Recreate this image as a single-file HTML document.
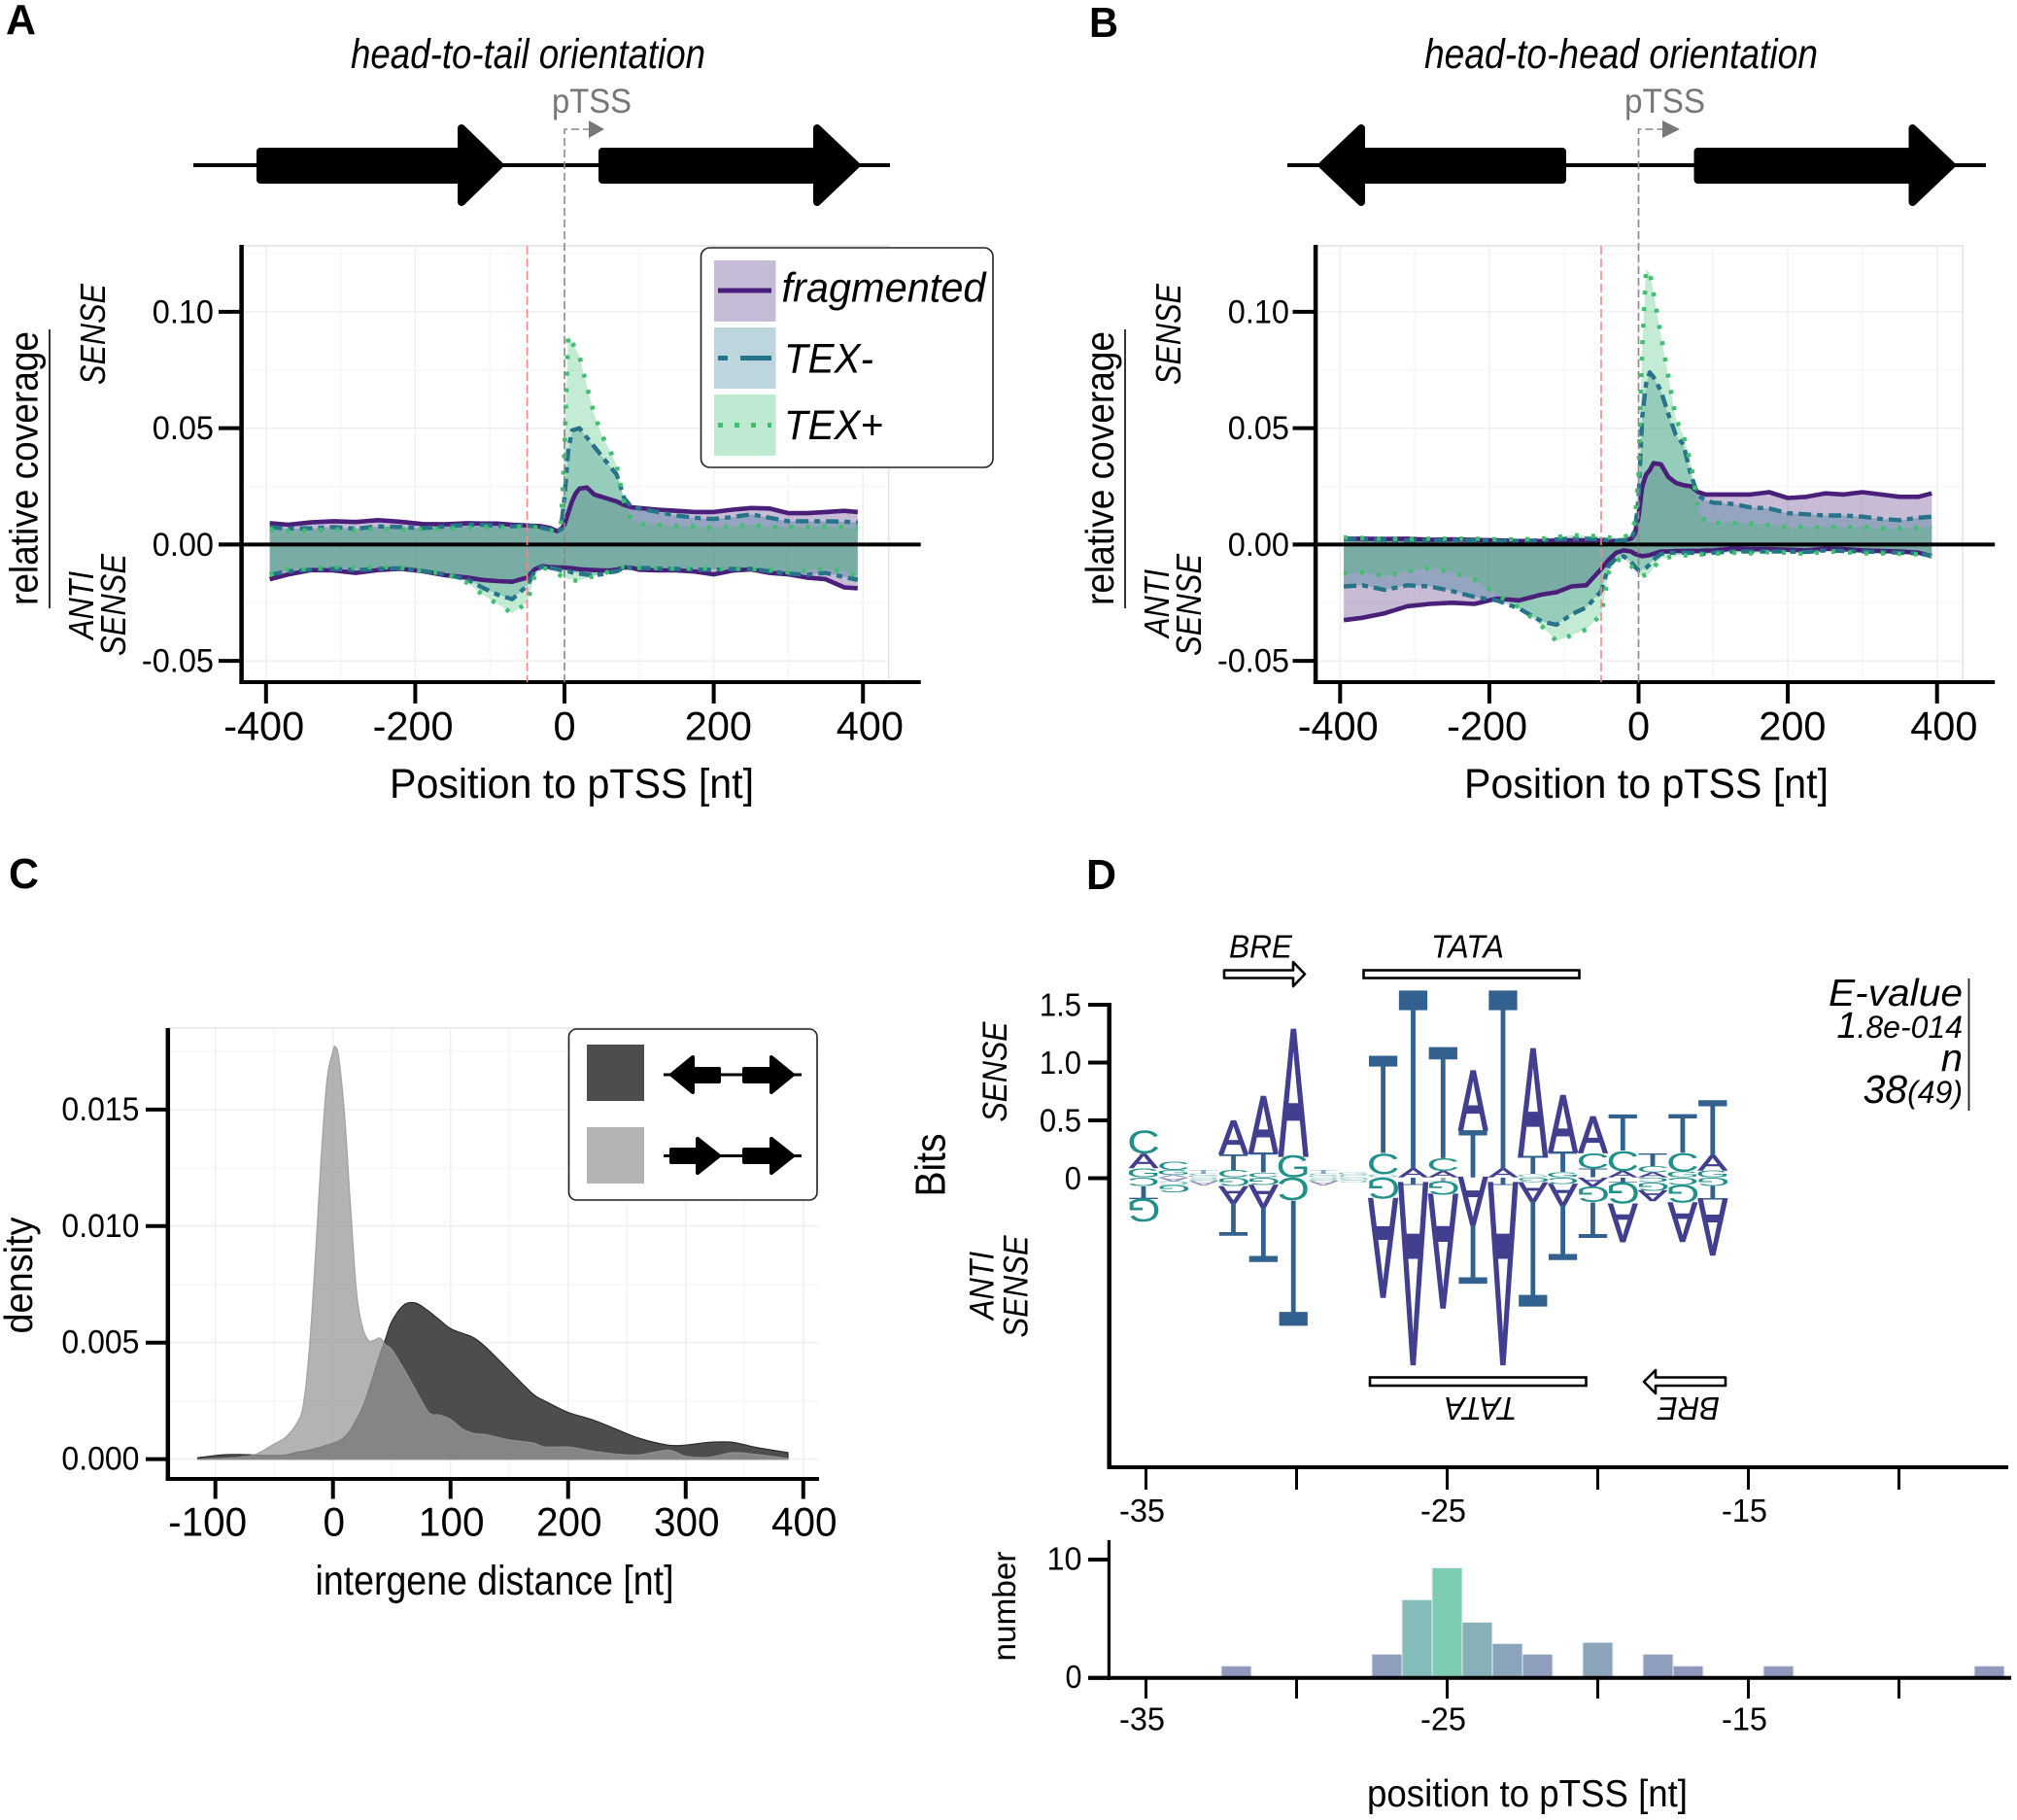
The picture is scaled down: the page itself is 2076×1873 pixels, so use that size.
<!DOCTYPE html>
<html lang="en">
<head>
<meta charset="utf-8">
<title>Coverage around pTSS, intergene distance and motif logo</title>
<style>
html,body{margin:0;padding:0;background:#fff;}
svg{display:block;font-family:"Liberation Sans",sans-serif;}
.it{font-style:italic;}
</style>
</head>
<body>
<svg id="figure" xmlns="http://www.w3.org/2000/svg" width="2076" height="1873" viewBox="0 0 2076 1873">
<rect width="2076" height="1873" fill="#fff"/>

<!-- PANEL A -->
<g>
  <text x="6" y="35" font-size="44" font-weight="bold" textLength="31" lengthAdjust="spacingAndGlyphs">A</text>
  <text class="it" x="361" y="70" font-size="43" textLength="365" lengthAdjust="spacingAndGlyphs">head-to-tail orientation</text>
  <text x="568" y="116" font-size="35" fill="#777" textLength="82" lengthAdjust="spacingAndGlyphs">pTSS</text>
  <g fill="#000" stroke="#000" stroke-linejoin="round" stroke-width="8">
    <line x1="199" y1="170" x2="916" y2="170" stroke-width="4"/>
    <path d="M268,156 H475 V132 L514,170 L475,208 V185 H268 Z"/>
    <path d="M620,156 H841 V132 L881,170 L841,208 V185 H620 Z"/>
  </g>
  <g id="a-marks"></g>
  <line x1="542.6" y1="253" x2="542.6" y2="702" stroke="#f08a8a" stroke-width="1.6" stroke-dasharray="9 4"/>
  <path d="M581,702 V133 H607" fill="none" stroke="#888" stroke-width="1.6" stroke-dasharray="8 4"/>
  <polygon points="606,124 622,133 606,142" fill="#777"/>
  <text transform="translate(38.5,482) rotate(-90)" text-anchor="middle" font-size="41" textLength="282" lengthAdjust="spacingAndGlyphs">relative coverage</text>
  <line x1="51" y1="339" x2="51" y2="626" stroke="#000" stroke-width="1.6"/>
  <text class="it" transform="translate(108,344) rotate(-90)" text-anchor="middle" font-size="36" textLength="104" lengthAdjust="spacingAndGlyphs">SENSE</text>
  <text class="it" transform="translate(96,623) rotate(-90)" text-anchor="middle" font-size="36" textLength="70" lengthAdjust="spacingAndGlyphs">ANTI</text>
  <text class="it" transform="translate(129,622.5) rotate(-90)" text-anchor="middle" font-size="36" textLength="105" lengthAdjust="spacingAndGlyphs">SENSE</text>
  <text x="401" y="821" font-size="43" textLength="375" lengthAdjust="spacingAndGlyphs">Position to pTSS [nt]</text>
  <g>
    <rect x="721.5" y="255" width="300.5" height="226" rx="9" fill="#fff" stroke="#222" stroke-width="1.6"/>
    <rect x="735" y="268" width="63.5" height="63" fill="#c7bcd8"/>
    <line x1="739" y1="299" x2="794" y2="299" stroke="#4a1f7a" stroke-width="5"/>
    <text class="it" x="804.5" y="310.5" font-size="43" textLength="210" lengthAdjust="spacingAndGlyphs">fragmented</text>
    <rect x="735" y="337" width="63.5" height="63" fill="#bdd5dc"/>
    <line x1="739" y1="368.5" x2="794" y2="368.5" stroke="#26738a" stroke-width="5" stroke-dasharray="10 13 32 0"/>
    <text class="it" x="807" y="383.5" font-size="43" textLength="92" lengthAdjust="spacingAndGlyphs">TEX-</text>
    <rect x="735" y="406" width="63.5" height="63" fill="#bfead2"/>
    <line x1="739" y1="437.5" x2="794" y2="437.5" stroke="#3fbf6f" stroke-width="5" stroke-dasharray="5 12"/>
    <text class="it" x="807" y="452" font-size="43" textLength="102" lengthAdjust="spacingAndGlyphs">TEX+</text>
  </g>
</g>

<!-- PANEL B -->
<g>
  <text x="1121" y="38" font-size="44" font-weight="bold" textLength="30" lengthAdjust="spacingAndGlyphs">B</text>
  <text class="it" x="1466" y="70" font-size="43" textLength="405" lengthAdjust="spacingAndGlyphs">head-to-head orientation</text>
  <text x="1672" y="116" font-size="35" fill="#777" textLength="83" lengthAdjust="spacingAndGlyphs">pTSS</text>
  <g fill="#000" stroke="#000" stroke-linejoin="round" stroke-width="8">
    <line x1="1325" y1="170" x2="2044" y2="170" stroke-width="4"/>
    <path d="M1608,156 H1401 V132 L1361,170 L1401,208 V185 H1608 Z"/>
    <path d="M1747.5,156 H1968.5 V132 L2008.5,170 L1968.5,208 V185 H1747.5 Z"/>
  </g>
  <g id="b-marks"></g>
  <line x1="1648" y1="253" x2="1648" y2="702" stroke="#f08a8a" stroke-width="1.6" stroke-dasharray="9 4"/>
  <path d="M1686.5,702 V133 H1712" fill="none" stroke="#888" stroke-width="1.6" stroke-dasharray="8 4"/>
  <polygon points="1711,124 1729,133 1711,142" fill="#777"/>
  <text transform="translate(1146,482) rotate(-90)" text-anchor="middle" font-size="41" textLength="282" lengthAdjust="spacingAndGlyphs">relative coverage</text>
  <line x1="1158" y1="339" x2="1158" y2="626" stroke="#000" stroke-width="1.6"/>
  <text class="it" transform="translate(1215,344) rotate(-90)" text-anchor="middle" font-size="36" textLength="104" lengthAdjust="spacingAndGlyphs">SENSE</text>
  <text class="it" transform="translate(1203,621) rotate(-90)" text-anchor="middle" font-size="36" textLength="70" lengthAdjust="spacingAndGlyphs">ANTI</text>
  <text class="it" transform="translate(1236,622.5) rotate(-90)" text-anchor="middle" font-size="36" textLength="105" lengthAdjust="spacingAndGlyphs">SENSE</text>
  <text x="1507" y="821" font-size="43" textLength="375" lengthAdjust="spacingAndGlyphs">Position to pTSS [nt]</text>
</g>

<!-- PANEL C -->
<g>
  <text x="9" y="914" font-size="44" font-weight="bold" textLength="31" lengthAdjust="spacingAndGlyphs">C</text>
  <g id="c-marks"></g>
  <text x="324.5" y="1641" font-size="43" textLength="369" lengthAdjust="spacingAndGlyphs">intergene distance [nt]</text>
  <text transform="translate(33,1312.5) rotate(-90)" text-anchor="middle" font-size="41" textLength="120" lengthAdjust="spacingAndGlyphs">density</text>
  <g>
    <rect x="585.5" y="1059" width="255.5" height="176" rx="8" fill="#fff" stroke="#222" stroke-width="1.6"/>
    <rect x="604" y="1075" width="59" height="58" fill="#4d4d4d"/>
    <rect x="604" y="1160" width="59" height="58" fill="#b3b3b3"/>
    <g fill="#000" stroke="#000" stroke-linejoin="round" stroke-width="4">
      <line x1="683" y1="1106" x2="825" y2="1106" stroke-width="3"/>
      <path d="M740,1100 H713 V1088 L691,1106 L713,1124 V1113 H740 Z"/>
      <path d="M766,1100 H794 V1088 L816,1106 L794,1124 V1113 H766 Z"/>
    </g>
    <g fill="#000" stroke="#000" stroke-linejoin="round" stroke-width="4">
      <line x1="683" y1="1189.5" x2="825" y2="1189.5" stroke-width="3"/>
      <path d="M691,1183 H718 V1172 L740,1189.5 L718,1207 V1196 H691 Z"/>
      <path d="M766,1183 H794 V1172 L816,1189.5 L794,1207 V1196 H766 Z"/>
    </g>
  </g>
</g>

<!-- PANEL D -->
<g>
  <text x="1118" y="915" font-size="44" font-weight="bold" textLength="31" lengthAdjust="spacingAndGlyphs">D</text>
  <text class="it" x="1265" y="985.5" font-size="33" textLength="65" lengthAdjust="spacingAndGlyphs">BRE</text>
  <text class="it" x="1473" y="985.5" font-size="33" textLength="75" lengthAdjust="spacingAndGlyphs">TATA</text>
  <path d="M1260,998.5 H1331 V990 L1343,1002.5 L1331,1015 V1006.5 H1260 Z" fill="#fff" stroke="#000" stroke-width="2.6" stroke-linejoin="round"/>
  <rect x="1403.5" y="998.5" width="222" height="8" fill="#fff" stroke="#000" stroke-width="2.6"/>
  <g id="d-marks"></g>
  <rect x="1410" y="1417.5" width="222.5" height="8.5" fill="#fff" stroke="#000" stroke-width="2.6"/>
  <path d="M1776,1417.5 H1704 V1410 L1692,1422 L1704,1434 V1426 H1776 Z" fill="#fff" stroke="#000" stroke-width="2.6" stroke-linejoin="round"/>
  <text class="it" transform="translate(1561.5,1438) rotate(180)" font-size="33" textLength="75" lengthAdjust="spacingAndGlyphs">TATA</text>
  <text class="it" transform="translate(1770,1438) rotate(180)" font-size="33" textLength="64" lengthAdjust="spacingAndGlyphs">BRE</text>
  <text transform="translate(972.5,1199) rotate(-90)" text-anchor="middle" font-size="44" textLength="65" lengthAdjust="spacingAndGlyphs">Bits</text>
  <text class="it" transform="translate(1036,1103) rotate(-90)" text-anchor="middle" font-size="35" textLength="103" lengthAdjust="spacingAndGlyphs">SENSE</text>
  <text class="it" transform="translate(1022.5,1323) rotate(-90)" text-anchor="middle" font-size="35" textLength="70" lengthAdjust="spacingAndGlyphs">ANTI</text>
  <text class="it" transform="translate(1057.5,1324) rotate(-90)" text-anchor="middle" font-size="35" textLength="105" lengthAdjust="spacingAndGlyphs">SENSE</text>
  <g class="it" text-anchor="end">
    <text x="2020" y="1035" font-size="39" textLength="138" lengthAdjust="spacingAndGlyphs">E-value</text>
    <text x="2020" y="1068" font-size="32"><tspan font-size="38">1</tspan>.8e-014</text>
    <text x="2020" y="1102.5" font-size="40">n</text>
    <text x="2020" y="1135" font-size="32"><tspan font-size="41">38</tspan>(49)</text>
    <line x1="2026.5" y1="1007" x2="2026.5" y2="1143" stroke="#222" stroke-width="1.8"/>
  </g>
  <g id="h-marks"></g>
  <text transform="translate(1045,1653) rotate(-90)" text-anchor="middle" font-size="33" textLength="113" lengthAdjust="spacingAndGlyphs">number</text>
  <text x="1407" y="1859" font-size="39" textLength="330" lengthAdjust="spacingAndGlyphs">position to pTSS [nt]</text>
</g>

<script>
// ---------- Coverage data (panels A and B) ----------
const covPositions = [-395,-370,-340,-310,-280,-250,-220,-190,-160,-130,
  -110,-90,-70,-50,-40,-30,-20,-10,-5,0,
  5,10,15,20,30,40,50,60,70,80,
  90,100,125,150,175,200,225,250,275,300,
  325,350,375,393];
const covXTicks = [-400,-200,0,200,400];
const covYTicks = [-0.05,0,0.05,0.10];
const covYTickLabels = ['-0.05','0.00','0.05','0.10'];
const covSeriesNames = ['fragmented','tex-minus','tex-plus'];

const aFragSense = [.0092,.0085,.0095,.0100,.0097,.0105,.0098,.0088,.0087,.0092,
  .0090,.0090,.0085,.0082,.0080,.0078,.0072,.0058,.0065,.0085,
  .0135,.0185,.0220,.0240,.0245,.0215,.0205,.0195,.0185,.0170,
  .0160,.0157,.0150,.0145,.0140,.0140,.0150,.0157,.0155,.0135,
  .0135,.0140,.0145,.0140];
const aTexMinusSense = [.0075,.0068,.0070,.0075,.0068,.0078,.0075,.0070,.0078,.0085,
  .0085,.0080,.0078,.0082,.0078,.0072,.0065,.0055,.0065,.0200,
  .0400,.0490,.0495,.0500,.0460,.0420,.0380,.0340,.0300,.0200,
  .0160,.0155,.0140,.0125,.0115,.0110,.0118,.0130,.0115,.0100,
  .0100,.0100,.0098,.0095];
const aTexPlusSense = [.0065,.0058,.0062,.0065,.0062,.0068,.0065,.0065,.0070,.0072,
  .0075,.0072,.0075,.0078,.0075,.0068,.0062,.0055,.0070,.0400,
  .0900,.0870,.0840,.0810,.0680,.0560,.0470,.0410,.0340,.0180,
  .0105,.0090,.0085,.0080,.0078,.0072,.0078,.0085,.0075,.0075,
  .0075,.0078,.0075,.0070];
const aFragAnti = [-.0149,-.0128,-.0110,-.0111,-.0122,-.0110,-.0104,-.0115,-.0132,-.0142,
  -.0152,-.0157,-.0160,-.0142,-.0107,-.0093,-.0097,-.0098,-.0099,-.0099,
  -.0100,-.0102,-.0104,-.0106,-.0108,-.0110,-.0111,-.0112,-.0108,-.0098,
  -.0100,-.0108,-.0111,-.0111,-.0116,-.0128,-.0112,-.0107,-.0122,-.0128,
  -.0142,-.0149,-.0184,-.0188];
const aTexMinusAnti = [-.0130,-.0115,-.0108,-.0105,-.0110,-.0105,-.0102,-.0113,-.0128,-.0150,
  -.0185,-.0215,-.0235,-.0177,-.0114,-.0095,-.0100,-.0105,-.0110,-.0112,
  -.0115,-.0120,-.0122,-.0125,-.0130,-.0132,-.0128,-.0120,-.0115,-.0100,
  -.0098,-.0100,-.0103,-.0105,-.0108,-.0108,-.0105,-.0105,-.0115,-.0125,
  -.0130,-.0122,-.0140,-.0152];
const aTexPlusAnti = [-.0130,-.0105,-.0105,-.0095,-.0100,-.0095,-.0100,-.0115,-.0125,-.0165,
  -.0215,-.0255,-.0295,-.0250,-.0135,-.0100,-.0105,-.0120,-.0135,-.0145,
  -.0150,-.0150,-.0155,-.0155,-.0145,-.0135,-.0130,-.0115,-.0105,-.0095,
  -.0098,-.0100,-.0100,-.0105,-.0100,-.0105,-.0105,-.0105,-.0110,-.0120,
  -.0110,-.0105,-.0115,-.0135];

const bFragSense = [.0025,.0025,.0024,.0025,.0020,.0022,.0020,.0018,.0015,.0015,
  .0017,.0018,.0018,.0017,.0016,.0015,.0018,.0025,.0045,.0120,
  .0250,.0300,.0320,.0350,.0345,.0290,.0265,.0255,.0250,.0225,
  .0215,.0215,.0215,.0215,.0225,.0200,.0205,.0220,.0215,.0225,
  .0215,.0205,.0205,.0220];
const bTexMinusSense = [.0025,.0022,.0020,.0018,.0018,.0020,.0018,.0015,.0015,.0018,
  .0022,.0025,.0025,.0022,.0018,.0016,.0018,.0025,.0060,.0200,
  .0550,.0690,.0740,.0720,.0660,.0560,.0470,.0430,.0300,.0210,
  .0190,.0180,.0175,.0160,.0155,.0135,.0130,.0125,.0125,.0120,
  .0110,.0105,.0115,.0120];
const bTexPlusSense = [.0030,.0028,.0025,.0022,.0025,.0025,.0025,.0022,.0022,.0025,
  .0032,.0040,.0038,.0035,.0030,.0030,.0032,.0045,.0100,.0300,
  .0850,.1180,.1170,.1080,.0900,.0720,.0540,.0470,.0350,.0150,
  .0095,.0095,.0095,.0090,.0085,.0075,.0075,.0075,.0075,.0075,
  .0070,.0070,.0072,.0075];
const bFragAnti = [-.0325,-.0315,-.0295,-.0265,-.0255,-.0250,-.0255,-.0232,-.0240,-.0215,
  -.0205,-.0180,-.0175,-.0105,-.0065,-.0035,-.0025,-.0030,-.0040,-.0045,
  -.0050,-.0048,-.0045,-.0040,-.0030,-.0030,-.0028,-.0028,-.0027,-.0028,
  -.0026,-.0025,-.0018,-.0020,-.0020,-.0022,-.0025,-.0018,-.0020,-.0025,
  -.0028,-.0030,-.0035,-.0050];
const bTexMinusAnti = [-.0180,-.0175,-.0195,-.0175,-.0180,-.0200,-.0225,-.0240,-.0275,-.0330,
  -.0345,-.0300,-.0270,-.0200,-.0090,-.0060,-.0050,-.0075,-.0095,-.0110,
  -.0110,-.0100,-.0085,-.0065,-.0040,-.0035,-.0035,-.0035,-.0035,-.0035,
  -.0040,-.0035,-.0030,-.0030,-.0030,-.0030,-.0032,-.0025,-.0028,-.0030,
  -.0032,-.0035,-.0038,-.0048];
const bTexPlusAnti = [-.0125,-.0120,-.0135,-.0115,-.0100,-.0120,-.0150,-.0215,-.0270,-.0350,
  -.0415,-.0390,-.0365,-.0300,-.0120,-.0070,-.0060,-.0090,-.0115,-.0130,
  -.0135,-.0130,-.0125,-.0100,-.0060,-.0055,-.0050,-.0045,-.0050,-.0040,
  -.0045,-.0040,-.0035,-.0038,-.0032,-.0035,-.0040,-.0030,-.0032,-.0038,
  -.0038,-.0040,-.0042,-.0052];

// ---------- Density data (panel C) ----------
const densPositions = [-115,-95,-80,-65,-50,-40,-30,-25,-20,-15,-10,-5,0,2,5,10,15,20,25,30,35,40,45,50,60,70,80,85,90,100,110,120,130,150,170,180,200,220,240,260,285,300,320,340,360,387];
const densHeadToHead = [.00006,.00018,.0002,.00017,.00016,.00018,.0003,.00033,.00038,.00045,.00052,.0006,.00068,.00072,.00078,.00095,.00125,.0017,.0022,.0029,.0037,.0045,.0052,.0059,.0066,.0067,.0064,.0062,.0060,.0056,.0054,.0052,.0048,.0038,.0028,.0025,.0020,.0017,.0013,.0009,.0006,.0006,.00072,.00072,.0005,.00028];
const densHeadToTail = [.00000,.00003,.00008,.00022,.00065,.00095,.0016,.0024,.0048,.0086,.0130,.0163,.0175,.0177,.0172,.0147,.0108,.0072,.0057,.0051,.0051,.0052,.0049,.0047,.0039,.0030,.0021,.0019,.0019,.0017,.0013,.0011,.00105,.00082,.00070,.00052,.00052,.00035,.00022,.00018,.00038,.00012,.00008,.00028,.00020,.00003];
const densXTicks = [-100,0,100,200,300,400];
const densYTicks = [0,0.005,0.010,0.015];
const densYTickLabels = ['0.000','0.005','0.010','0.015'];

// ---------- Logo data (panel D): [letter, bits], stacked outward from zero ----------
const logoPositions = [-35,-34,-33,-32,-31,-30,-29,-28,-27,-26,-25,-24,-23,-22,-21,-20,-19,-18,-17,-16];
const logoSense = [
  [['G',.08],['A',.125],['C',.21]],
  [['A',.02],['G',.045],['C',.07]],
  [['G',.015],['C',.015],['T',.03]],
  [['C',.065],['T',.135],['A',.285]],
  [['C',.04],['T',.17],['A',.485]],
  [['G',.195],['A',1.07]],
  [['G',.015],['C',.015],['T',.03]],
  [['C',.02],['G',.02]],
  [['G',.03],['C',.18],['T',.84]],
  [['A',.075],['T',1.54]],
  [['A',.055],['C',.11],['T',.96]],
  [['T',.41],['A',.505]],
  [['A',.075],['T',1.54]],
  [['G',.03],['T',.155],['A',.915]],
  [['G',.045],['T',.175],['A',.485]],
  [['T',.075],['C',.135],['A',.31]],
  [['A',.055],['C',.175],['T',.31]],
  [['A',.04],['C',.055],['T',.105]],
  [['G',.05],['C',.165],['T',.33]],
  [['G',.06],['A',.13],['T',.475]]
];
const logoAnti = [
  [['C',.075],['T',.105],['G',.21]],
  [['A',.03],['C',.035],['G',.065]],
  [['C',.015],['G',.015],['A',.035]],
  [['G',.075],['A',.145],['T',.285]],
  [['G',.065],['A',.19],['T',.47]],
  [['C',.2],['T',1.08]],
  [['C',.015],['G',.015],['A',.035]],
  [['G',.02],['C',.02]],
  [['G',.19],['A',.835]],
  [['T',.065],['A',1.53]],
  [['T',.03],['G',.125],['A',.96]],
  [['A',.41],['T',.505]],
  [['T',.065],['A',1.53]],
  [['G',.04],['A',.165],['T',.91]],
  [['C',.055],['A',.185],['T',.47]],
  [['A',.075],['G',.14],['T',.305]],
  [['T',.04],['G',.19],['A',.32]],
  [['C',.04],['G',.07],['A',.09]],
  [['C',.065],['G',.155],['A',.33]],
  [['G',.07],['T',.12],['A',.475]]
];
const logoYTicks = [0,0.5,1.0,1.5];
const logoYTickLabels = ['0','0.5','1.0','1.5'];
const posTicks = [-35,-30,-25,-20,-15,-10];
const posTickLabels = ['-35','','-25','','-15',''];

// ---------- Histogram data (panel D) ----------
const histBins = [-32,-27,-26,-25,-24,-23,-22,-20,-18,-17,-14,-7];
const histCounts = [1,2,6.6,9.3,4.7,2.9,2,3,2,1,1,1];
const histYTicks = [0,10];

// ---------- Helpers ----------
const NS = 'http://www.w3.org/2000/svg';
function add(parent, tag, attrs, text) {
  const el = document.createElementNS(NS, tag);
  for (const k in attrs) el.setAttribute(k, attrs[k]);
  if (text !== undefined) el.textContent = text;
  parent.appendChild(el);
  return el;
}
function labelWidth(str, em) {
  let w = 0;
  for (const ch of str) w += ch === '-' ? .333 : ch === '.' ? .278 : .556;
  return (w * em).toFixed(1);
}
function smoothPath(xs, ys) {
  let d = `M${xs[0].toFixed(1)},${ys[0].toFixed(1)}`;
  for (let i = 0; i < xs.length - 1; i++) {
    const p = Math.max(i - 1, 0), n = Math.min(i + 2, xs.length - 1);
    const c1x = xs[i] + (xs[i + 1] - xs[p]) / 6, c1y = ys[i] + (ys[i + 1] - ys[p]) / 6;
    const c2x = xs[i + 1] - (xs[n] - xs[i]) / 6, c2y = ys[i + 1] - (ys[n] - ys[i]) / 6;
    d += ` C${c1x.toFixed(1)},${c1y.toFixed(1)} ${c2x.toFixed(1)},${c2y.toFixed(1)} ${xs[i + 1].toFixed(1)},${ys[i + 1].toFixed(1)}`;
  }
  return d;
}
const covY = v => 560.4 - v * 2395;
const densX = v => 342.7 + v * 1.2102;
const densY = v => 1501.6 - v * 23980;
const logoY = v => 1212.5 - v * 119;
const logoX = p => 1177 + (p + 35) * 30.83;
const posX = p => 1179.5 + (p + 35) * 31;
const histY = v => 1726.7 - v * 12.17;

// ---------- Coverage panels ----------
function drawCoverage(id, prefix, x0, sense, anti, yTitleRight) {
  const g = document.getElementById(id);
  const covX = v => x0 + v * 0.768;
  const left = covX(-400) - 25;
  const right = covX(400) + 26.5;
  const axisRight = covX(400) + 59.5;
  for (let v = -400; v <= 400; v += 100) {
    const el = add(g, 'line', {x1: covX(v), x2: covX(v), y1: 253, y2: 702, stroke: v % 200 === 0 ? '#eeeeee' : '#f6f6f6', 'stroke-width': 1.4});
    
    
  }
  for (let v = -0.05; v <= 0.1251; v += 0.025) {
    const major = Math.abs(v / 0.05 - Math.round(v / 0.05)) < 1e-6;
    const el = add(g, 'line', {x1: left, x2: right, y1: covY(v), y2: covY(v), stroke: major ? '#eeeeee' : '#f6f6f6', 'stroke-width': 1.4});
    
    
  }
  const frame = add(g, 'path', {d: `M${left},253 H${right} V702`, fill: 'none', stroke: '#e2e2e2', 'stroke-width': 1.4});
  
  

  const fills = ['rgba(70,30,120,.3)', 'rgba(38,115,140,.3)', 'rgba(60,190,110,.3)'];
  const strokes = ['#4a1f7a', '#26738a', '#3fbf6f'];
  const dashes = ['none', '13 6 6 6', '4 13'];
  const widths = [4.6, 4.4, 4.6];
  sense.forEach((series, s) => {
    const up = series.map((v, i) => `${covX(covPositions[i]).toFixed(1)},${covY(v).toFixed(1)}`);
    const down = anti[s].map((v, i) => `${covX(covPositions[i]).toFixed(1)},${covY(v).toFixed(1)}`);
    const area = add(g, 'polygon', {points: up.concat(down.slice().reverse()).join(' '), fill: fills[s]});
    
    
  });
  sense.forEach((series, s) => {
    [series, anti[s]].forEach((vals, k) => {
      const pts = vals.map((v, i) => `${covX(covPositions[i]).toFixed(1)},${covY(v).toFixed(1)}`).join(' ');
      const line = add(g, 'polyline', {points: pts, fill: 'none', stroke: strokes[s], 'stroke-width': widths[s], 'stroke-linejoin': 'round', 'stroke-dasharray': dashes[s]});
      
      
    });
  });
  // axes
  const zero = add(g, 'line', {x1: x0 - 356, x2: axisRight, y1: covY(0), y2: covY(0), stroke: '#000', 'stroke-width': 4});
  
  
  const yAxis = add(g, 'line', {x1: x0 - 332.4, x2: x0 - 332.4, y1: 252, y2: 704, stroke: '#000', 'stroke-width': 4.5});
  
  
  const xAxis = add(g, 'line', {x1: x0 - 334.6, x2: axisRight, y1: 702, y2: 702, stroke: '#000', 'stroke-width': 4});
  
  
  covXTicks.forEach(v => {
    const t = add(g, 'line', {x1: covX(v), x2: covX(v), y1: 702, y2: 724, stroke: '#000', 'stroke-width': 4});
    
    
    const lab = add(g, 'text', {x: covX(v * 1.015) + (v > 0 ? 2.5 : v === -400 ? 2.5 : 0), y: 761.5, 'text-anchor': 'middle', 'font-size': 42, textLength: labelWidth(String(v), 41.5), lengthAdjust: 'spacingAndGlyphs'}, String(v));
    
    
  });
  covYTicks.forEach((v, i) => {
    const t = add(g, 'line', {x1: x0 - 356, x2: x0 - 332, y1: covY(v), y2: covY(v), stroke: '#000', 'stroke-width': 4});
    
    
    const lab = add(g, 'text', {x: yTitleRight, y: covY(v) + 11.5, 'text-anchor': 'end', 'font-size': 34, textLength: labelWidth(covYTickLabels[i], 32.5), lengthAdjust: 'spacingAndGlyphs'}, covYTickLabels[i]);
    
    
  });
}
drawCoverage('a-marks', 'panel-a', 581, [aFragSense, aTexMinusSense, aTexPlusSense], [aFragAnti, aTexMinusAnti, aTexPlusAnti], 220);
drawCoverage('b-marks', 'panel-b', 1686.5, [bFragSense, bTexMinusSense, bTexPlusSense], [bFragAnti, bTexMinusAnti, bTexPlusAnti], 1327);

// ---------- Density panel ----------
(function () {
  const g = document.getElementById('c-marks');
  for (let v = -100; v <= 400; v += 50) {
    const el = add(g, 'line', {x1: densX(v), x2: densX(v), y1: 1058, y2: 1522, stroke: v % 100 === 0 ? '#eeeeee' : '#f6f6f6', 'stroke-width': 1.4});
    
    
  }
  for (let i = 0; i <= 7; i++) {
    const v = i * 0.0025;
    const el = add(g, 'line', {x1: 173, x2: 842.7, y1: densY(v), y2: densY(v), stroke: i % 2 === 0 ? '#eeeeee' : '#f6f6f6', 'stroke-width': 1.4});
    
    
  }
  const frame = add(g, 'path', {d: 'M173,1058 H842.7', fill: 'none', stroke: '#e6e6e6', 'stroke-width': 1.4});
  
  
  const areaPath = vals => {
    const xs = densPositions.map(densX);
    const ys = vals.map(densY);
    return smoothPath(xs, ys) + ` L${xs[xs.length - 1].toFixed(1)},${densY(0).toFixed(1)} L${xs[0].toFixed(1)},${densY(0).toFixed(1)} Z`;
  };
  const dark = add(g, 'path', {d: areaPath(densHeadToHead), fill: '#4d4d4d', stroke: '#2a2a2a', 'stroke-width': 1.2, 'stroke-linejoin': 'round'});
  
  
  const light = add(g, 'path', {d: areaPath(densHeadToTail), fill: 'rgba(152,152,152,.74)', stroke: 'rgba(150,150,150,.8)', 'stroke-width': 1.2, 'stroke-linejoin': 'round'});
  
  
  const yAxis = add(g, 'line', {x1: 172.8, x2: 172.8, y1: 1058, y2: 1524, stroke: '#000', 'stroke-width': 4.5});
  
  
  const xAxis = add(g, 'line', {x1: 170.6, x2: 843, y1: 1522, y2: 1522, stroke: '#000', 'stroke-width': 4});
  
  
  densXTicks.forEach(v => {
    const t = add(g, 'line', {x1: densX(v), x2: densX(v), y1: 1522, y2: 1542.5, stroke: '#000', 'stroke-width': 4});
    
    
    const lab = add(g, 'text', {x: densX(v) + (v < 0 ? -8 : 1), y: 1580.5, 'text-anchor': 'middle', 'font-size': 42, textLength: labelWidth(String(v), 40.5), lengthAdjust: 'spacingAndGlyphs'}, String(v));
    
    
  });
  densYTicks.forEach((v, i) => {
    const t = add(g, 'line', {x1: 150, x2: 172, y1: densY(v), y2: densY(v), stroke: '#000', 'stroke-width': 4});
    
    
    const lab = add(g, 'text', {x: 143.5, y: densY(v) + 11, 'text-anchor': 'end', 'font-size': 34, textLength: labelWidth(densYTickLabels[i], 32), lengthAdjust: 'spacingAndGlyphs'}, densYTickLabels[i]);
    
    
  });
})();

// ---------- Logo ----------
(function () {
  const g = document.getElementById('d-marks');
  const colors = {A: '#423f8f', T: '#33618f', C: '#22908a', G: '#22908a'};
  const inkW = {A: .66, C: .63, G: .65, T: .57};
  const capH = {A: .688, T: .688, C: .72, G: .72};
  const glyphStroke = {A: 2.5, T: 0, C: 0, G: 0};
  const colW = 29.5;
  const FS = 100;
  logoPositions.forEach((p, c) => {
    let acc = 0;
    logoSense[c].forEach(item => {
      const letter = item[0], bits = item[1];
      const bottom = logoY(acc) - 1, top = logoY(acc + bits) - 1;
      const sx = colW / (inkW[letter] * FS), sy = (bottom - top) / (capH[letter] * FS);
      const t = add(g, 'text', {transform: `translate(${logoX(p).toFixed(1)},${bottom.toFixed(2)}) scale(${sx.toFixed(4)},${sy.toFixed(5)})`, 'text-anchor': 'middle', 'font-size': FS, fill: colors[letter], stroke: colors[letter], 'stroke-width': glyphStroke[letter], opacity: bits < .04 ? .55 : 1}, letter);
      
      
      acc += bits;
    });
    acc = 0;
    logoAnti[c].forEach(item => {
      const letter = item[0], bits = item[1];
      const top = logoY(-acc) - .5, bottom = logoY(-acc - bits) - .5;
      const sx = colW / (inkW[letter] * FS), sy = (bottom - top) / (capH[letter] * FS);
      const t = add(g, 'text', {transform: `translate(${logoX(p).toFixed(1)},${top.toFixed(2)}) scale(${(-sx).toFixed(4)},${(-sy).toFixed(5)})`, 'text-anchor': 'middle', 'font-size': FS, fill: colors[letter], stroke: colors[letter], 'stroke-width': glyphStroke[letter], opacity: bits < .04 ? .55 : 1}, letter);
      
      
      acc += bits;
    });
  });
  const yAxis = add(g, 'line', {x1: 1141.7, x2: 1141.7, y1: 1032, y2: 1512, stroke: '#000', 'stroke-width': 4.5});
  
  
  const xAxis = add(g, 'line', {x1: 1139.5, x2: 2067, y1: 1510, y2: 1510, stroke: '#000', 'stroke-width': 4});
  
  
  logoYTicks.forEach((v, i) => {
    const t = add(g, 'line', {x1: 1120, x2: 1141, y1: logoY(v), y2: logoY(v), stroke: '#000', 'stroke-width': 4});
    
    
    const lab = add(g, 'text', {x: 1113, y: logoY(v) + 11.5, 'text-anchor': 'end', 'font-size': 33, textLength: labelWidth(logoYTickLabels[i], 31), lengthAdjust: 'spacingAndGlyphs'}, logoYTickLabels[i]);
    
    
  });
  posTicks.forEach((p, i) => {
    const t = add(g, 'line', {x1: posX(p), x2: posX(p), y1: 1510, y2: 1533, stroke: '#000', 'stroke-width': 3});
    
    
    if (posTickLabels[i]) {
      const lab = add(g, 'text', {x: posX(p) - 4, y: 1566, 'text-anchor': 'middle', 'font-size': 33, textLength: 47, lengthAdjust: 'spacingAndGlyphs'}, posTickLabels[i]);
      
      
    }
  });
})();

// ---------- Histogram ----------
(function () {
  const g = document.getElementById('h-marks');
  const maxCount = Math.max.apply(null, histCounts);
  const low = [144, 152, 189], high = [125, 205, 181];
  histBins.forEach((b, i) => {
    const f = (histCounts[i] - 1) / (maxCount - 1);
    const col = low.map((c, k) => Math.round(c + (high[k] - c) * f));
    const y = histY(histCounts[i]);
    const r = add(g, 'rect', {x: posX(b) - 15.5, y: y, width: 31, height: histY(0) - y, fill: `rgb(${col.join(',')})`, stroke: '#e6eef0', 'stroke-width': 1});
    
    
  });
  const yAxis = add(g, 'line', {x1: 1141.4, x2: 1141.4, y1: 1585, y2: 1729, stroke: '#000', 'stroke-width': 3.2});
  
  
  const xAxis = add(g, 'line', {x1: 1120, x2: 2070, y1: histY(0), y2: histY(0), stroke: '#000', 'stroke-width': 4});
  
  
  histYTicks.forEach(v => {
    const t = add(g, 'line', {x1: 1120, x2: 1141, y1: histY(v), y2: histY(v), stroke: '#000', 'stroke-width': 4});
    
    
    const lab = add(g, 'text', {x: 1113.5, y: histY(v) + 10.5, 'text-anchor': 'end', 'font-size': 33, textLength: v ? 36 : 17, lengthAdjust: 'spacingAndGlyphs'}, String(v));
    
    
  });
  posTicks.forEach((p, i) => {
    const t = add(g, 'line', {x1: posX(p), x2: posX(p), y1: histY(0), y2: 1748, stroke: '#000', 'stroke-width': 3});
    
    
    if (posTickLabels[i]) {
      const lab = add(g, 'text', {x: posX(p) - 4, y: 1780.5, 'text-anchor': 'middle', 'font-size': 33, textLength: 47, lengthAdjust: 'spacingAndGlyphs'}, posTickLabels[i]);
      
      
    }
  });
})();
</script>
</svg>
</body>
</html>
